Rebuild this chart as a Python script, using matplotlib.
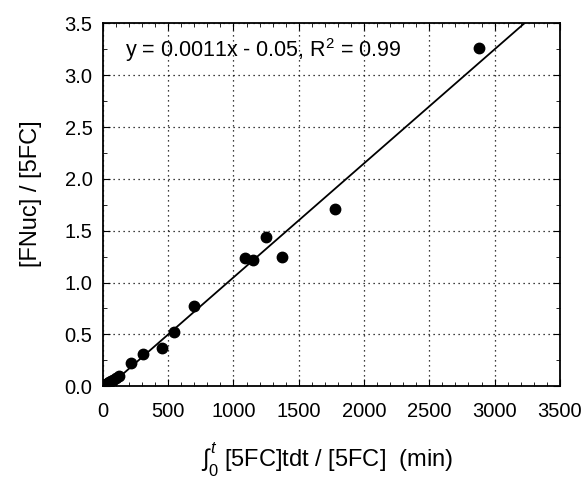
import matplotlib
matplotlib.use("Agg")
import matplotlib.pyplot as plt
from matplotlib.ticker import MultipleLocator, FormatStrFormatter

# data
x_vals = [0, 10, 20, 35, 50, 65, 80, 100, 125, 215, 305, 450, 545, 700, 1090, 1150, 1250, 1370, 1775, 2880]
y_vals = [0.01, 0.01, 0.02, 0.03, 0.04, 0.05, 0.06, 0.08, 0.10, 0.22, 0.31, 0.37, 0.52, 0.77, 1.24, 1.22, 1.44, 1.25, 1.71, 3.26]
slope = 0.0011
intercept = -0.05
fit_x = [0, 3300]
fit_text = "y = 0.0011x - 0.05, R$^2$ = 0.99"

plt.rcParams["font.family"] = ["Liberation Sans", "DejaVu Sans"]
plt.rcParams["mathtext.fontset"] = "custom"
plt.rcParams["mathtext.rm"] = "Liberation Sans"
plt.rcParams["mathtext.it"] = "Liberation Sans:italic"

fig = plt.figure(figsize=(5.85, 4.78), dpi=100)
ax = fig.add_axes([0.176, 0.192, 0.781, 0.759])

ax.plot(fit_x, [slope * v + intercept for v in fit_x], color="black", lw=1.3)
ax.plot(x_vals, y_vals, "o", color="black", ms=7.5)

ax.set_xlim(0, 3500)
ax.set_ylim(0, 3.5)
ax.xaxis.set_major_locator(MultipleLocator(500))
ax.xaxis.set_minor_locator(MultipleLocator(100))
ax.yaxis.set_major_locator(MultipleLocator(0.5))
ax.yaxis.set_minor_locator(MultipleLocator(0.25))
ax.yaxis.set_major_formatter(FormatStrFormatter("%.1f"))
ax.tick_params(which="both", direction="in", top=True, right=True, labelsize=14.5)
ax.tick_params(which="major", length=5)
ax.tick_params(which="minor", length=3)
ax.tick_params(axis="x", which="major", pad=11)
ax.tick_params(axis="y", which="major", pad=7.5)
ax.grid(True, which="major", linestyle=(0, (1, 3)), color="black", lw=0.9)
for s in ax.spines.values():
    s.set_linewidth(1.3)

ax.text(0.048, 0.926, fit_text, transform=ax.transAxes, fontsize=15.5, va="center")
ax.set_ylabel("[FNuc] / [5FC]", fontsize=17)
ax.yaxis.set_label_coords(-0.133, 0.532)
ax.set_xlabel(r"$\int_0^t\ $[5FC]tdt / [5FC]  (min)", fontsize=17, va="top")
ax.xaxis.set_label_coords(0.49, -0.15)

plt.savefig("out.png", dpi=100)
